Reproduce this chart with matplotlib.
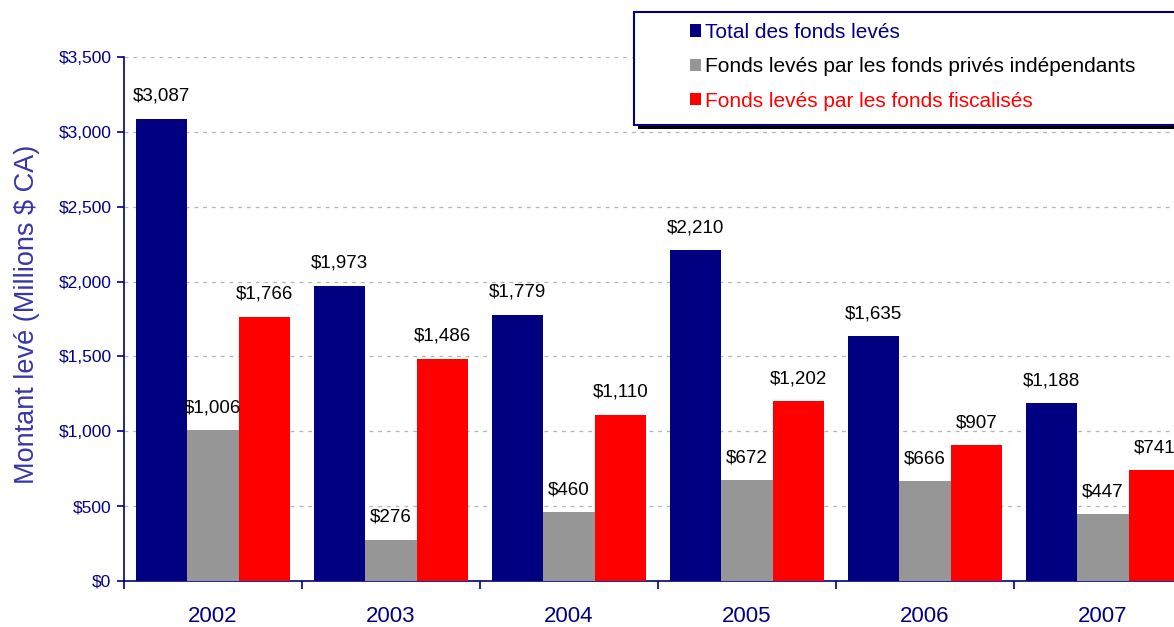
import numpy as np
import matplotlib.pyplot as plt
from matplotlib.patches import Rectangle
from matplotlib.ticker import FuncFormatter, MultipleLocator

# =========================
# Data
# =========================
years = ["2002", "2003", "2004", "2005", "2006", "2007"]
total = [3087, 1973, 1779, 2210, 1635, 1188]
prives = [1006, 276, 460, 672, 666, 447]
fiscalises = [1766, 1486, 1110, 1202, 907, 741]
series_names = [
    "Total des fonds levés",
    "Fonds levés par les fonds privés indépendants",
    "Fonds levés par les fonds fiscalisés",
]

# =========================
# Style
# =========================
navy = "#000080"
gray = "#969696"
red = "#FF0000"
plt.rcParams["font.family"] = ["Liberation Sans", "DejaVu Sans"]

fig = plt.figure(figsize=(11.74, 6.27), dpi=100)
W, H = 1174, 627
# axes extends beyond the right edge (chart is cropped in the reference)
ax = fig.add_axes([124 / W, (H - 581) / H, 1068 / W, (581 - 57) / H])

x = np.arange(len(years))
bw = 0.29
groups = [(total, navy, -bw), (prives, gray, 0), (fiscalises, red, bw)]
for (vals, col, off), name in zip(groups, series_names):
    bars = ax.bar(x + off, vals, bw, color=col, label=name, zorder=3)
    for b, v in zip(bars, vals):
        ax.annotate(f"${v:,}", (b.get_x() + b.get_width() / 2, v),
                    xytext=(0, 10), textcoords="offset points",
                    ha="center", va="bottom", fontsize=13.5, color="black",
                    zorder=4)

ax.set_xlim(-0.5, len(years) - 0.5)
ax.set_ylim(0, 3500)
ax.yaxis.set_major_locator(MultipleLocator(500))
ax.yaxis.set_major_formatter(FuncFormatter(lambda v, p: f"${int(v):,}"))
ax.grid(axis="y", color="#b4b4b4", linestyle=(0, (3, 4)), linewidth=0.9, zorder=0)

# ticks at category boundaries, labels at centres
ax.set_xticks(np.arange(len(years) + 1) - 0.5)
ax.set_xticklabels([])
ax.set_xticks(x, minor=True)
ax.set_xticklabels(years, minor=True)
ax.tick_params(axis="x", which="major", length=6, width=1.2, color=navy, direction="out")
ax.tick_params(axis="x", which="minor", length=0, pad=18, labelsize=16, labelcolor=navy)
ax.tick_params(axis="y", length=5, width=1.2, color=navy, labelsize=12.5,
               labelcolor=navy, pad=4)

for s in ["top", "right"]:
    ax.spines[s].set_visible(False)
for s in ["left", "bottom"]:
    ax.spines[s].set_color(navy)
    ax.spines[s].set_linewidth(1.2)

ax.set_ylabel("Montant levé (Millions $ CA)", fontsize=19.5, color="#3636a8")
ax.yaxis.set_label_coords(-0.079, 0.508)

# =========================
# Legend (box with shadow, cropped at the right edge)
# =========================
fig.patches.append(Rectangle((638 / W, (H - 129) / H), 560 / W, 113 / H,
                             transform=fig.transFigure, facecolor="black",
                             edgecolor="none", zorder=5))
fig.patches.append(Rectangle((634 / W, (H - 125) / H), 560 / W, 113 / H,
                             transform=fig.transFigure, facecolor="white",
                             edgecolor=navy, linewidth=1.5, zorder=6))
leg = fig.legend(loc="upper left", bbox_to_anchor=(671 / W, (H - 4) / H),
                 frameon=False, fontsize=15, handlelength=0.55, handleheight=0.55,
                 handletextpad=0.2, labelspacing=0.74,
                 labelcolor=[navy, "black", red])
leg.set_zorder(7)

fig.savefig("out.png", dpi=100)
